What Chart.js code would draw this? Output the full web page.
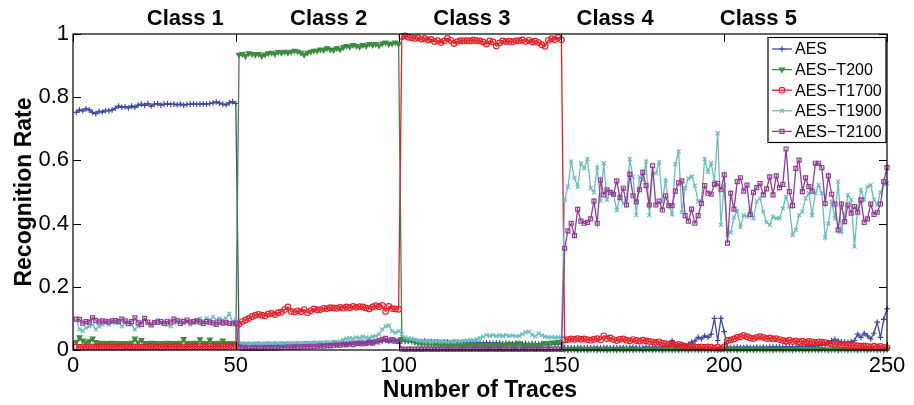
<!DOCTYPE html>
<html><head><meta charset="utf-8">
<script src="https://cdn.jsdelivr.net/npm/chart.js@4.4.0/dist/chart.umd.min.js"></script>
<style>html,body{margin:0;padding:0;background:#fff}#wrap{width:914px;height:405px}</style>
</head><body><div id="wrap"><canvas id="c" width="914" height="405"></canvas></div>
<script>
const xTicks = [0, 50, 100, 150, 200, 250];
const yTicks = [0, 0.2, 0.4, 0.6, 0.8, 1];
const classLabels = ['Class 1', 'Class 2', 'Class 3', 'Class 4', 'Class 5'];
const classPositions = [34.5, 78.5, 122.5, 166.5, 210.5];
const seriesNames = ['AES', 'AES\u2212T200', 'AES\u2212T1700', 'AES\u2212T1900', 'AES\u2212T2100'];

const aes = [
0.752,0.760,0.757,0.763,0.760,0.752,0.748,0.755,0.753,0.758,
0.757,0.760,0.765,0.772,0.768,0.770,0.766,0.772,0.768,0.775,
0.778,0.774,0.780,0.772,0.778,0.780,0.775,0.778,0.779,0.777,
0.778,0.776,0.778,0.775,0.777,0.778,0.779,0.777,0.778,0.779,
0.778,0.780,0.782,0.785,0.781,0.778,0.776,0.782,0.786,0.780,
0.020,0.017,0.016,0.018,0.016,0.017,0.018,0.016,0.017,0.018,
0.017,0.019,0.016,0.018,0.017,0.019,0.018,0.017,0.019,0.018,
0.020,0.018,0.019,0.021,0.019,0.020,0.018,0.021,0.020,0.022,
0.021,0.020,0.023,0.021,0.022,0.024,0.022,0.023,0.025,0.024,
0.026,0.024,0.027,0.025,0.028,0.030,0.027,0.029,0.031,0.030,
0.028,0.027,0.029,0.026,0.028,0.027,0.025,0.028,0.026,0.027,
0.025,0.026,0.024,0.026,0.025,0.023,0.025,0.024,0.022,0.024,
0.023,0.022,0.024,0.022,0.023,0.021,0.023,0.022,0.021,0.023,
0.022,0.020,0.022,0.021,0.020,0.022,0.021,0.020,0.021,0.019,
0.021,0.020,0.019,0.021,0.020,0.019,0.020,0.018,0.020,0.019,
0.008,0.007,0.008,0.007,0.008,0.008,0.007,0.008,0.007,0.008,
0.008,0.007,0.008,0.008,0.007,0.008,0.007,0.008,0.008,0.007,
0.008,0.009,0.008,0.007,0.008,0.009,0.008,0.008,0.009,0.008,
0.009,0.010,0.012,0.030,0.012,0.014,0.016,0.013,0.018,0.025,
0.028,0.040,0.035,0.045,0.040,0.050,0.100,0.030,0.100,0.058,
0.009,0.008,0.008,0.009,0.008,0.008,0.009,0.008,0.008,0.009,
0.008,0.009,0.008,0.009,0.010,0.009,0.010,0.009,0.010,0.011,
0.010,0.011,0.012,0.011,0.012,0.013,0.012,0.014,0.013,0.015,
0.016,0.022,0.030,0.034,0.028,0.026,0.025,0.024,0.026,0.030,
0.050,0.040,0.053,0.045,0.035,0.053,0.088,0.040,0.097,0.130];

const aesT200 = [
0.025,0.040,0.030,0.024,0.028,0.036,0.025,0.022,0.023,0.021,
0.022,0.023,0.021,0.022,0.020,0.022,0.021,0.023,0.036,0.024,
0.032,0.022,0.021,0.023,0.022,0.020,0.022,0.021,0.023,0.022,
0.021,0.022,0.023,0.035,0.022,0.021,0.023,0.022,0.034,0.022,
0.021,0.033,0.022,0.021,0.023,0.030,0.022,0.021,0.022,0.021,
0.934,0.937,0.930,0.939,0.937,0.934,0.937,0.930,0.935,0.939,
0.941,0.937,0.943,0.941,0.944,0.941,0.944,0.947,0.945,0.941,
0.934,0.941,0.944,0.947,0.947,0.951,0.949,0.955,0.951,0.949,
0.955,0.951,0.958,0.962,0.960,0.965,0.962,0.960,0.965,0.962,
0.968,0.965,0.968,0.964,0.970,0.973,0.968,0.970,0.973,0.968,
0.035,0.033,0.030,0.032,0.025,0.022,0.020,0.021,0.019,0.020,
0.018,0.019,0.017,0.018,0.016,0.017,0.016,0.018,0.016,0.015,
0.016,0.017,0.015,0.016,0.015,0.016,0.015,0.014,0.016,0.015,
0.014,0.015,0.016,0.020,0.015,0.014,0.021,0.015,0.014,0.016,
0.015,0.016,0.015,0.017,0.022,0.016,0.024,0.022,0.025,0.023,
0.002,0.001,0.002,0.002,0.001,0.002,0.002,0.001,0.002,0.002,
0.001,0.002,0.002,0.001,0.002,0.002,0.001,0.002,0.001,0.002,
0.002,0.001,0.002,0.002,0.001,0.002,0.002,0.001,0.002,0.002,
0.001,0.002,0.002,0.001,0.002,0.001,0.002,0.002,0.001,0.002,
0.002,0.001,0.002,0.002,0.001,0.002,0.002,0.001,0.002,0.002,
0.001,0.002,0.002,0.001,0.002,0.002,0.001,0.002,0.001,0.002,
0.002,0.001,0.002,0.002,0.001,0.002,0.002,0.001,0.002,0.002,
0.001,0.002,0.002,0.001,0.002,0.001,0.002,0.002,0.001,0.002,
0.002,0.001,0.002,0.002,0.001,0.002,0.002,0.001,0.002,0.002,
0.001,0.002,0.002,0.001,0.002,0.002,0.001,0.002,0.001,0.002];

const aesT1700 = [
0.010,0.009,0.010,0.009,0.010,0.010,0.009,0.010,0.009,0.010,
0.010,0.009,0.010,0.010,0.009,0.010,0.010,0.009,0.010,0.010,
0.009,0.010,0.010,0.011,0.010,0.010,0.009,0.010,0.011,0.010,
0.010,0.011,0.010,0.010,0.011,0.010,0.011,0.010,0.011,0.011,
0.010,0.011,0.012,0.011,0.011,0.012,0.011,0.012,0.012,0.013,
0.082,0.090,0.095,0.100,0.106,0.110,0.113,0.110,0.108,0.114,
0.116,0.112,0.118,0.120,0.128,0.136,0.122,0.120,0.124,0.121,
0.128,0.118,0.124,0.130,0.127,0.128,0.132,0.131,0.134,0.133,
0.132,0.135,0.133,0.136,0.134,0.138,0.135,0.137,0.136,0.133,
0.130,0.136,0.140,0.137,0.141,0.122,0.138,0.131,0.130,0.129,
0.992,0.994,0.990,0.988,0.986,0.988,0.984,0.986,0.981,0.983,
0.976,0.979,0.973,0.978,0.986,0.980,0.970,0.976,0.979,0.978,
0.979,0.978,0.981,0.979,0.978,0.975,0.968,0.978,0.975,0.962,
0.972,0.978,0.976,0.977,0.976,0.978,0.979,0.981,0.976,0.980,
0.975,0.977,0.973,0.966,0.961,0.980,0.985,0.982,0.989,0.982,
0.032,0.033,0.035,0.034,0.036,0.034,0.035,0.033,0.031,0.034,
0.036,0.032,0.045,0.036,0.038,0.033,0.030,0.034,0.035,0.031,
0.029,0.033,0.030,0.028,0.031,0.029,0.027,0.026,0.024,0.026,
0.022,0.020,0.018,0.020,0.016,0.018,0.015,0.012,0.010,0.012,
0.010,0.009,0.010,0.008,0.010,0.009,0.006,0.010,0.005,0.010,
0.030,0.032,0.035,0.040,0.042,0.046,0.042,0.038,0.036,0.040,
0.042,0.040,0.036,0.038,0.035,0.036,0.033,0.030,0.028,0.031,
0.027,0.029,0.026,0.028,0.025,0.027,0.026,0.024,0.026,0.025,
0.023,0.021,0.020,0.018,0.019,0.016,0.015,0.016,0.014,0.015,
0.013,0.012,0.013,0.011,0.010,0.012,0.009,0.011,0.008,0.007];

const aesT1900 = [
0.095,0.065,0.060,0.070,0.075,0.080,0.065,0.075,0.080,0.085,
0.080,0.090,0.085,0.090,0.075,0.085,0.090,0.080,0.065,0.075,
0.090,0.095,0.085,0.080,0.090,0.095,0.085,0.090,0.080,0.075,
0.085,0.090,0.095,0.085,0.090,0.080,0.085,0.095,0.100,0.090,
0.100,0.095,0.105,0.095,0.100,0.095,0.100,0.115,0.090,0.095,
0.022,0.020,0.021,0.019,0.020,0.021,0.020,0.019,0.021,0.020,
0.021,0.020,0.022,0.021,0.020,0.022,0.021,0.022,0.020,0.022,
0.021,0.023,0.022,0.021,0.023,0.024,0.023,0.025,0.024,0.026,
0.025,0.027,0.032,0.036,0.038,0.035,0.040,0.038,0.042,0.040,
0.038,0.042,0.045,0.050,0.065,0.075,0.078,0.060,0.055,0.060,
0.050,0.040,0.037,0.035,0.033,0.030,0.028,0.027,0.028,0.026,
0.027,0.028,0.026,0.027,0.025,0.027,0.026,0.028,0.027,0.029,
0.030,0.032,0.030,0.034,0.038,0.042,0.048,0.045,0.047,0.044,
0.046,0.045,0.047,0.044,0.046,0.043,0.045,0.050,0.056,0.058,
0.048,0.043,0.052,0.046,0.042,0.040,0.041,0.039,0.040,0.038,
0.475,0.517,0.596,0.545,0.517,0.591,0.575,0.604,0.512,0.499,
0.577,0.471,0.591,0.475,0.501,0.491,0.443,0.485,0.464,0.480,
0.604,0.548,0.427,0.548,0.538,0.596,0.427,0.559,0.559,0.594,
0.471,0.537,0.459,0.429,0.588,0.628,0.436,0.512,0.543,0.549,
0.520,0.470,0.471,0.604,0.564,0.591,0.532,0.686,0.396,0.522,
0.365,0.372,0.420,0.440,0.390,0.427,0.422,0.438,0.417,0.471,
0.480,0.438,0.404,0.396,0.422,0.417,0.417,0.448,0.485,0.454,
0.364,0.380,0.427,0.438,0.480,0.496,0.427,0.496,0.522,0.496,
0.356,0.401,0.469,0.417,0.533,0.375,0.427,0.491,0.475,0.327,
0.448,0.507,0.475,0.517,0.522,0.475,0.459,0.499,0.524,0.527];

const aesT2100 = [
0.098,0.096,0.085,0.090,0.088,0.102,0.094,0.089,0.092,0.091,
0.089,0.092,0.093,0.090,0.098,0.092,0.084,0.090,0.102,0.086,
0.081,0.100,0.088,0.079,0.087,0.088,0.090,0.084,0.091,0.088,
0.098,0.092,0.084,0.090,0.095,0.088,0.090,0.092,0.088,0.084,
0.090,0.088,0.086,0.081,0.088,0.085,0.087,0.084,0.083,0.085,
0.010,0.006,0.005,0.006,0.005,0.006,0.005,0.006,0.007,0.006,
0.007,0.006,0.008,0.007,0.008,0.009,0.008,0.010,0.009,0.010,
0.011,0.010,0.012,0.011,0.012,0.013,0.012,0.014,0.013,0.015,
0.016,0.015,0.018,0.016,0.019,0.017,0.020,0.022,0.019,0.021,
0.024,0.022,0.026,0.030,0.034,0.037,0.030,0.033,0.028,0.027,
0.003,0.002,0.003,0.003,0.002,0.003,0.002,0.003,0.003,0.002,
0.003,0.002,0.003,0.003,0.002,0.003,0.002,0.003,0.002,0.003,
0.003,0.002,0.003,0.003,0.002,0.003,0.002,0.003,0.003,0.002,
0.003,0.002,0.003,0.003,0.002,0.003,0.002,0.003,0.002,0.003,
0.003,0.002,0.003,0.003,0.002,0.003,0.002,0.003,0.003,0.002,
0.322,0.377,0.401,0.362,0.445,0.408,0.401,0.404,0.415,0.471,
0.401,0.538,0.491,0.507,0.499,0.493,0.535,0.482,0.512,0.459,
0.556,0.488,0.469,0.507,0.562,0.520,0.459,0.583,0.459,0.471,
0.443,0.488,0.457,0.457,0.503,0.529,0.535,0.425,0.408,0.446,
0.401,0.425,0.464,0.520,0.496,0.493,0.524,0.527,0.507,0.554,
0.338,0.496,0.446,0.533,0.545,0.503,0.522,0.429,0.499,0.514,
0.527,0.491,0.510,0.548,0.491,0.551,0.514,0.524,0.636,0.501,
0.457,0.575,0.601,0.501,0.545,0.517,0.503,0.591,0.591,0.577,
0.464,0.551,0.493,0.462,0.380,0.462,0.406,0.459,0.433,0.454,
0.436,0.475,0.404,0.415,0.462,0.429,0.436,0.462,0.533,0.577];

const seriesValues = [aes, aesT200, aesT1700, aesT1900, aesT2100];
const seriesColors = ['#3b4ba3', '#3b8c40', '#e3202a', '#6bbdc0', '#923d95'];
const seriesMarkers = ['cross', 'triangle', 'circle', 'crossRot', 'rect'];
const markerRotation = [0, 180, 0, 0, 0];
const markerFill = [false, true, false, false, false];

const FONT = '"Liberation Sans", Arial, Helvetica, sans-serif';
Chart.defaults.font.family = FONT;
Chart.defaults.color = '#000';

const datasets = seriesValues.map((vals, k) => ({
  label: seriesNames[k],
  data: vals.map((v, i) => ({x: i + 1, y: v})),
  borderColor: seriesColors[k],
  backgroundColor: markerFill[k] ? seriesColors[k] : 'rgba(0,0,0,0)',
  pointBorderColor: seriesColors[k],
  pointBackgroundColor: markerFill[k] ? seriesColors[k] : 'rgba(0,0,0,0)',
  borderWidth: 1.3,
  pointRadius: 2.8,
  pointBorderWidth: 1.2,
  pointStyle: seriesMarkers[k],
  pointRotation: markerRotation[k],
  tension: 0,
  clip: false,
  order: 5 - k
}));

const framePlugin = {
  id: 'frame',
  afterDatasetsDraw(chart) {
    const {ctx, chartArea: a, scales: {x, y}} = chart;
    ctx.save();
    ctx.strokeStyle = '#000';
    ctx.lineWidth = 1.2;
    ctx.strokeRect(a.left, a.top, a.right - a.left, a.bottom - a.top);
    const tl = 8;
    ctx.beginPath();
    xTicks.forEach(v => {
      const px = Math.round(x.getPixelForValue(v)) + 0.5;
      ctx.moveTo(px, a.bottom); ctx.lineTo(px, a.bottom - tl);
      ctx.moveTo(px, a.top); ctx.lineTo(px, a.top + tl);
    });
    yTicks.forEach(v => {
      const py = Math.round(y.getPixelForValue(v)) + 0.5;
      ctx.moveTo(a.left, py); ctx.lineTo(a.left + tl, py);
      ctx.moveTo(a.right, py); ctx.lineTo(a.right - tl, py);
    });
    ctx.lineWidth = 1;
    ctx.stroke();
    // class labels
    ctx.fillStyle = '#000';
    ctx.font = 'bold 22px ' + FONT;
    ctx.textAlign = 'center';
    ctx.textBaseline = 'middle';
    classLabels.forEach((t, i) => {
      ctx.fillText(t, x.getPixelForValue(classPositions[i]), 19);
    });
    // legend
    const bw = 118, bh = 105;
    const bx = a.right - bw - 1, by = a.top + 3.5;
    ctx.fillStyle = '#fff';
    ctx.fillRect(bx, by, bw, bh);
    ctx.strokeStyle = '#000';
    ctx.lineWidth = 1.2;
    ctx.strokeRect(bx, by, bw, bh);
    ctx.font = '16px ' + FONT;
    ctx.textAlign = 'left';
    seriesNames.forEach((n, k) => {
      const ry = by + 11.5 + k * 20.6;
      ctx.strokeStyle = seriesColors[k];
      ctx.lineWidth = 1.3;
      ctx.beginPath();
      ctx.moveTo(bx + 4, ry); ctx.lineTo(bx + 24, ry);
      ctx.stroke();
      ctx.fillStyle = markerFill[k] ? seriesColors[k] : 'rgba(0,0,0,0)';
      ctx.lineWidth = 1.2;
      Chart.helpers.drawPoint(ctx, {pointStyle: seriesMarkers[k], rotation: markerRotation[k], radius: 2.8, borderWidth: 1.2}, bx + 14, ry);
      ctx.fillStyle = '#000';
      ctx.fillText(n, bx + 27, ry + 1);
    });
    ctx.restore();
  }
};

new Chart(document.getElementById('c'), {
  type: 'line',
  data: {datasets},
  options: {
    responsive: false,
    animation: false,
    devicePixelRatio: 1,
    layout: {padding: {top: 34, right: 27, left: 0, bottom: 0}},
    plugins: {legend: {display: false}, tooltip: {enabled: false}},
    scales: {
      x: {
        type: 'linear', min: 0, max: 250,
        afterBuildTicks: s => { s.ticks = xTicks.map(v => ({value: v})); },
        afterFit: s => { s.height = 55; },
        grid: {display: false, drawTicks: false},
        border: {display: false},
        ticks: {font: {size: 22}, color: '#000', padding: 3, maxRotation: 0,
                callback: v => String(v)},
        title: {display: true, text: 'Number of Traces', color: '#000',
                font: {size: 23, weight: 'bold'}, padding: {top: 0, bottom: 1}}
      },
      y: {
        type: 'linear', min: 0, max: 1,
        afterBuildTicks: s => { s.ticks = yTicks.map(v => ({value: v})); },
        afterFit: s => { s.width = 73; },
        grid: {display: false, drawTicks: false},
        border: {display: false},
        ticks: {font: {size: 22}, color: '#000', padding: 4,
                callback: v => String(Math.round(v * 10) / 10)},
        title: {display: true, text: 'Recognition Rate', color: '#000',
                font: {size: 23, weight: 'bold'}, padding: {top: 11, bottom: 0}}
      }
    }
  },
  plugins: [framePlugin]
});
</script></body></html>
